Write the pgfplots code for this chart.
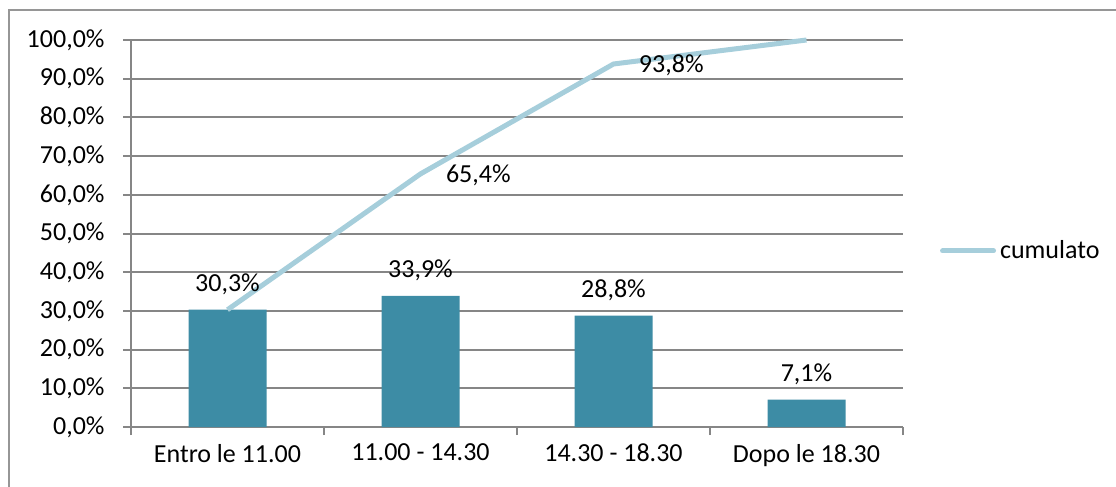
\documentclass[border=0pt]{standalone}
\usepackage{pgfplots}
\pgfplotsset{compat=1.18}
\usepackage{fontspec}
\setmainfont{Carlito}
\definecolor{barteal}{RGB}{61,140,165}
\definecolor{cumblue}{RGB}{166,206,219}
\definecolor{gridgray}{RGB}{134,134,134}
\definecolor{framegray}{RGB}{150,150,150}
\begin{document}
\fontsize{13}{15.6}\selectfont
\begin{tikzpicture}
\begin{axis}[
  at={(65.5pt,-213.5pt)}, anchor=south west,
  scale only axis, width=386pt, height=193.5pt,
  xmin=-0.5, xmax=3.5, ymin=0, ymax=100,
  axis lines=left,
  axis line style={-, draw=gridgray, line width=1pt},
  ymajorgrids, grid style={gridgray, line width=1pt},
  tick style={gridgray, line width=1pt},
  tick align=outside, major tick length=4pt,
  ytick={0,10,...,100},
  /pgf/number format/assume math mode=true,
  yticklabel={\pgfmathprintnumber[fixed,fixed zerofill,precision=1,use comma]{\tick}\%},
  yticklabel style={xshift=-4.7pt},
  xtick={-0.5,0.5,1.5,2.5,3.5},
  x tick label as interval,
  xticklabels={Entro le 11.00, 11.00 - 14.30, 14.30 - 18.30, Dopo le 18.30},
  tick label style={font=\fontsize{13}{15.6}\selectfont, text=black},
  clip=false,
  legend style={draw=none, fill=none, at={(1.048,0.4548)}, anchor=west,
    inner sep=0pt, outer sep=0pt, column sep=2pt,
    nodes={inner sep=0pt, text=black, font=\fontsize{13}{15.6}\selectfont}},
  legend image code/.code={\draw[#1, line cap=round] (1.25pt,0pt) -- (26.75pt,0pt);},
]
% share of each time slot
\addplot[ybar, bar width=39pt, fill=barteal, draw=none, forget plot,
  nodes near coords={\pgfmathprintnumber[fixed,fixed zerofill,precision=1,use comma]{\pgfplotspointmeta}\%},
  every node near coord/.append style={anchor=base, yshift=9pt, inner sep=0pt, text=black,
    font=\fontsize{13}{15.6}\selectfont, /pgf/number format/assume math mode=true}]
  coordinates {(0,30.3) (1,33.9) (2,28.8) (3,7.1)};
% cumulative share
\addplot[cumblue, line width=2.5pt, line join=round, mark=none,
  point meta=explicit symbolic,
  nodes near coords={\pgfplotspointmeta},
  every node near coord/.append style={anchor=base west, xshift=11.5pt, yshift=-4.5pt,
    inner sep=0pt, text=black, font=\fontsize{13}{15.6}\selectfont}]
  coordinates {(0,30.3) [] (1,65.4) [65,4\%] (2,93.8) [93,8\%] (3,100) []};
\addlegendentry{cumulato}
\end{axis}
\pgfresetboundingbox
\useasboundingbox (0,0) rectangle (558pt,-243.5pt);
\draw[framegray, line width=0.75pt] (4.5pt,-300pt) -- (4.5pt,-5pt) -- (600pt,-5pt);
\end{tikzpicture}
\end{document}
